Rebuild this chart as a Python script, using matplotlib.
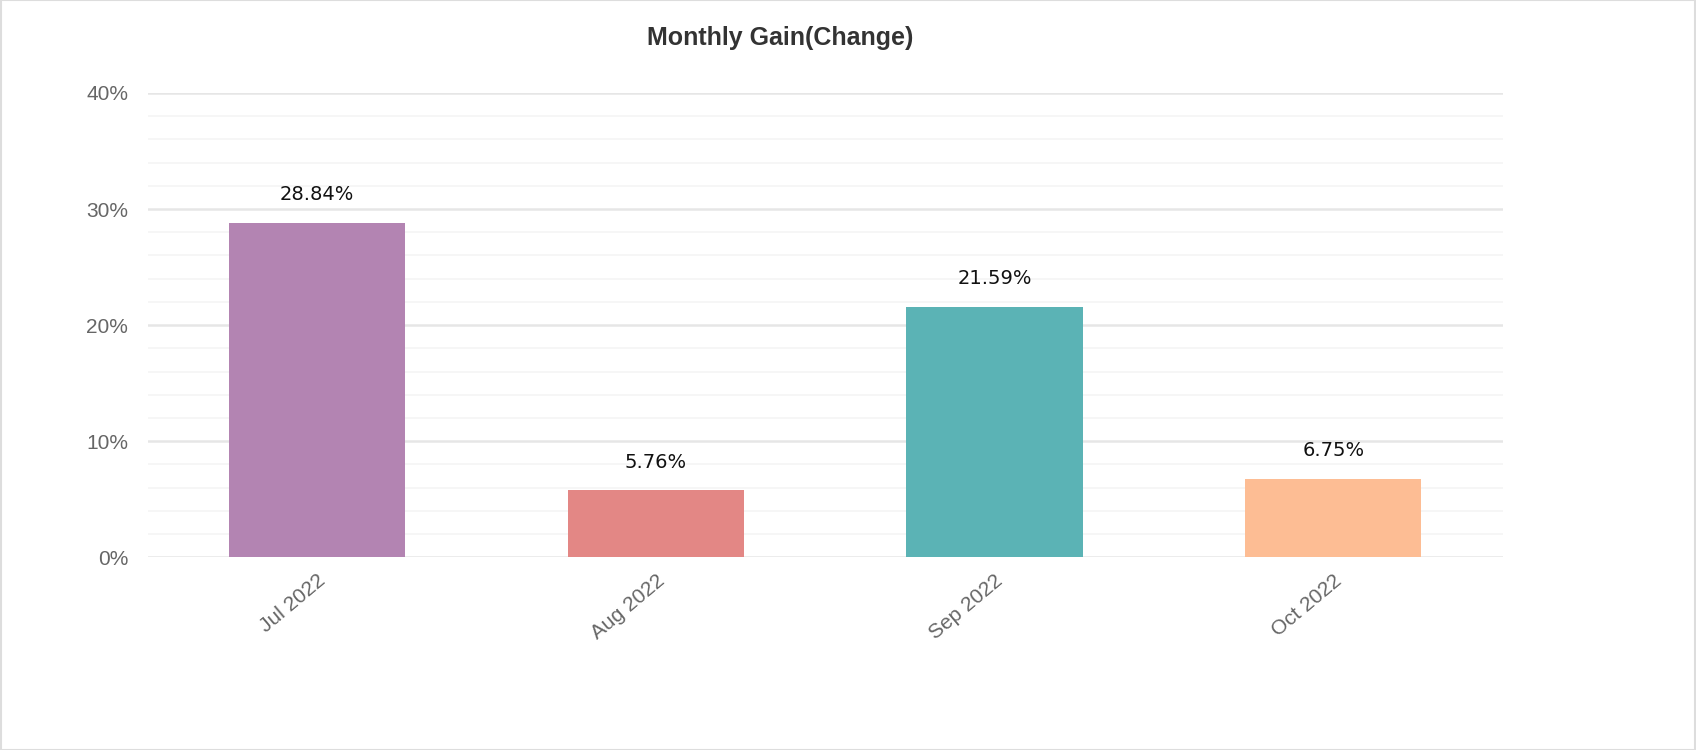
import matplotlib.pyplot as plt
from matplotlib.ticker import MultipleLocator, FuncFormatter

plt.rcParams['font.family'] = ['Liberation Sans', 'DejaVu Sans']

months = ['Jul 2022', 'Aug 2022', 'Sep 2022', 'Oct 2022']
gains = [28.84, 5.76, 21.59, 6.75]
colors = ['#B384B2', '#E38785', '#5BB3B5', '#FDBD94']

fig = plt.figure(figsize=(16.96, 7.5), dpi=100)
ax = fig.add_axes([0.087, 0.257, 0.799, 0.619])

x = range(len(months))
ax.bar(x, gains, width=0.52, color=colors, linewidth=0, zorder=3)
for i, v in zip(x, gains):
    ax.text(i, v + 1.6, f'{v:.2f}%', ha='center', va='bottom', fontsize=14,
            color='#111111', family='DejaVu Sans')

ax.set_xlim(-0.5, 3.5)
ax.set_ylim(0, 40)
ax.yaxis.set_major_locator(MultipleLocator(10))
ax.yaxis.set_minor_locator(MultipleLocator(2))
ax.yaxis.set_major_formatter(FuncFormatter(lambda v, p: f'{v:.0f}%'))
ax.grid(axis='y', which='major', color='#e6e6e6', linewidth=1.8, zorder=0)
ax.grid(axis='y', which='minor', color='#f5f5f5', linewidth=1.2, zorder=0)
ax.set_xticks(list(x))
ax.set_xticklabels(months, rotation=40, ha='right', rotation_mode='anchor', fontsize=15, color='#666666')
ax.tick_params(axis='y', labelsize=15, labelcolor='#666666', length=0, which='both', pad=14)
ax.tick_params(axis='x', length=0, pad=10)
for s in ax.spines.values():
    s.set_visible(False)

fig.text(0.46, 0.95, 'Monthly Gain(Change)', ha='center', va='center', fontsize=18, fontweight='bold', color='#333333')
fig.patches.append(plt.Rectangle((0.0005, 0.0), 0.999, 1.0, transform=fig.transFigure, fill=False, edgecolor='#dddddd', linewidth=1.5))

fig.savefig('out.png', dpi=100)
